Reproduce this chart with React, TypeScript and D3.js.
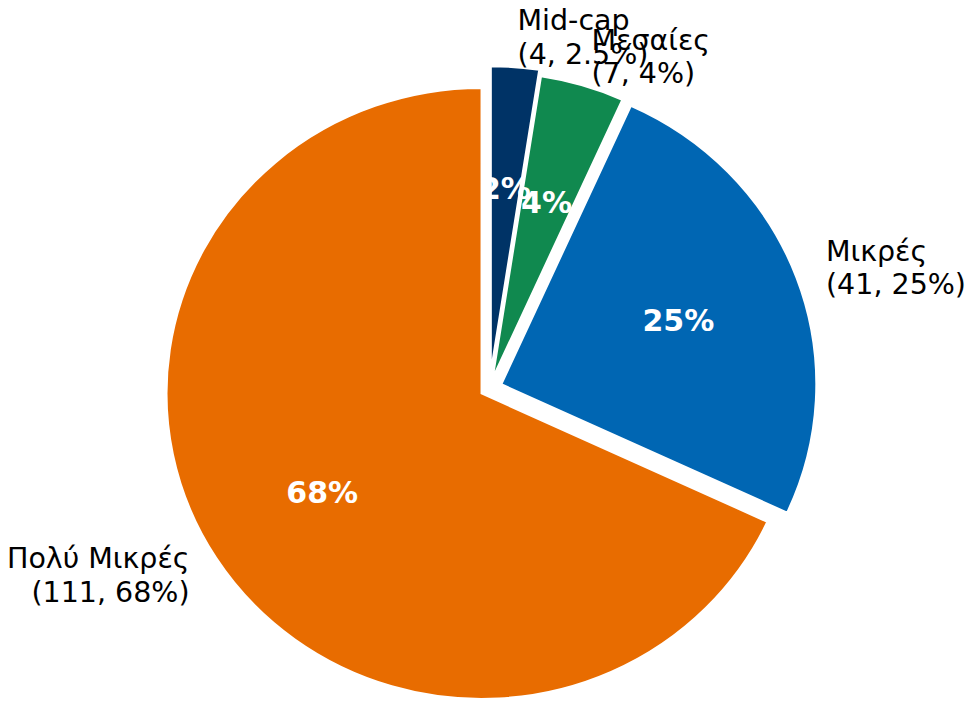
import React from 'react';
import * as d3 from 'd3';

const categories = ['Mid-cap', 'Μεσαίες', 'Μικρές', 'Πολύ Μικρές'];
const values = [4, 7, 41, 111];
const shareLabels = ['2.5%', '4%', '25%', '68%'];
const explode = [0.055, 0.035, 0.04, 0.03];
const colors = ['#003366', '#10894f', '#0066b3', '#e86c00'];

const W = 968;
const H = 701;
const cx = 489.5;
const cy = 388.5;
const rx = 315;
const ry = 305.5;
const sx = rx / ry;

export default function App() {
  const total = d3.sum(values);
  const slices = d3.pie<number>().value((d) => d).sort(null)(values);
  const arc = d3.arc<d3.PieArcDatum<number>>().innerRadius(0).outerRadius(ry);
  const font = 'DejaVu Sans, sans-serif';
  const lineGap = 33.5;

  const items = slices.map((s, i) => {
    const mid = (s.startAngle + s.endAngle) / 2;
    const ox = cx + sx * explode[i] * ry * Math.sin(mid);
    const oy = cy - explode[i] * ry * Math.cos(mid);
    const lx = ox + sx * 1.1 * ry * Math.sin(mid);
    const ly = oy - 1.1 * ry * Math.cos(mid);
    const px = ox + sx * 0.6 * ry * Math.sin(mid);
    const py = oy - 0.6 * ry * Math.cos(mid);
    return { s, i, mid, ox, oy, lx, ly, px, py };
  });

  return (
    <svg width={W} height={H} style={{ position: 'absolute', left: 0, top: 0, background: '#fff' }}>
      {items.map(({ s, i, ox, oy }) => (
        <g key={'w' + i} transform={`translate(${ox},${oy}) scale(${sx},1)`}>
          <path d={arc(s) || ''} fill={colors[i]} stroke="#fff" strokeWidth={2} vectorEffect="non-scaling-stroke" />
        </g>
      ))}
      {items.map(({ i, mid, lx, ly, px, py }) => {
        const anchor = Math.sin(mid) > 0 ? 'start' : 'end';
        return (
          <g key={'t' + i}>
            <text x={lx} y={ly} textAnchor={anchor} fontFamily={font} fontSize={28.5} fill="#000">
              <tspan x={lx} y={ly - lineGap / 2 + 1} dominantBaseline="central">{categories[i]}</tspan>
              <tspan x={lx} y={ly + lineGap / 2 + 1} dominantBaseline="central">{`(${values[i]}, ${shareLabels[i]})`}</tspan>
            </text>
            <text x={px} y={py} textAnchor="middle" dominantBaseline="central" fontFamily={font} fontWeight="bold" fontSize={30} fill="#fff">
              {`${Math.round((values[i] / total) * 100)}%`}
            </text>
          </g>
        );
      })}
    </svg>
  );
}
